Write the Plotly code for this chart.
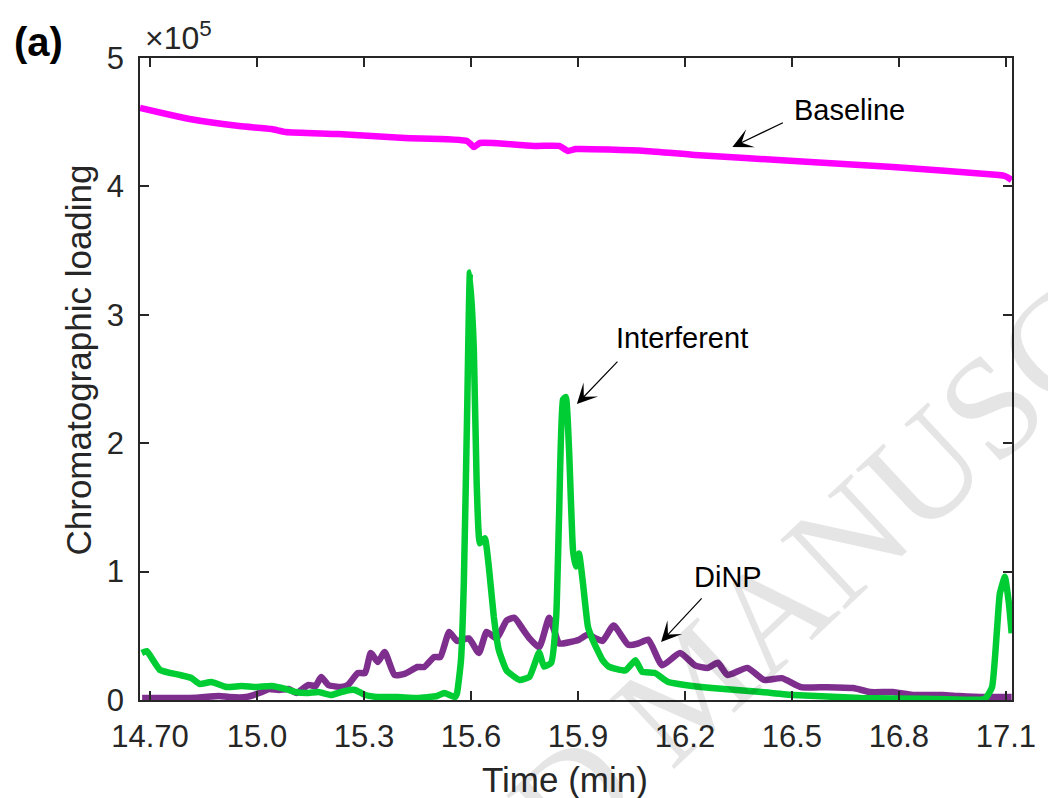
import numpy as np
import plotly.graph_objects as go

SCALE = 1e5

# Baseline (magenta)
t_base = [14.672, 14.811, 14.950, 15.041, 15.080, 15.228, 15.414, 15.589, 15.608, 15.625,
          15.783, 15.847, 15.872, 15.894, 16.089, 16.228, 16.506, 16.783, 17.080, 17.097, 17.116]
y_base = [4.611, 4.525, 4.470, 4.447, 4.424, 4.408, 4.377, 4.354, 4.307, 4.338,
          4.315, 4.315, 4.276, 4.291, 4.276, 4.245, 4.198, 4.151, 4.089, 4.081, 4.050]

# Interferent (green)
t_int = [14.677, 14.691, 14.728, 14.783, 14.816, 14.839, 14.872, 14.914, 14.958, 14.997,
         15.041, 15.080, 15.108, 15.144, 15.172, 15.208, 15.236, 15.261, 15.275, 15.303,
         15.339, 15.394, 15.450, 15.505, 15.525, 15.555, 15.561, 15.572, 15.580, 15.589,
         15.597, 15.608, 15.616, 15.625, 15.639, 15.650, 15.664, 15.678, 15.700, 15.736,
         15.764, 15.791, 15.805, 15.825, 15.839, 15.847, 15.858, 15.866, 15.875, 15.886,
         15.894, 15.903, 15.914, 15.928, 15.941, 15.969, 15.986, 16.033, 16.061, 16.080,
         16.116, 16.153, 16.200, 16.275, 16.414, 16.505, 16.692, 16.875, 17.041, 17.061,
         17.075, 17.083, 17.097, 17.108, 17.116]
y_int = [0.366, 0.380, 0.234, 0.195, 0.171, 0.125, 0.140, 0.101, 0.109, 0.101,
         0.109, 0.086, 0.062, 0.055, 0.062, 0.039, 0.062, 0.078, 0.078, 0.039,
         0.023, 0.023, 0.016, 0.031, 0.055, 0.023, 0.055, 0.310, 0.910, 2.200,
         3.330, 2.730, 1.690, 1.220, 1.260, 1.040, 0.650, 0.390, 0.230, 0.156,
         0.180, 0.370, 0.260, 0.290, 0.650, 1.430, 2.340, 2.360, 1.950, 1.170,
         1.040, 1.140, 0.910, 0.570, 0.470, 0.310, 0.260, 0.230, 0.310, 0.220,
         0.210, 0.140, 0.117, 0.093, 0.062, 0.039, 0.016, 0.010, 0.010, 0.100,
         0.550, 0.830, 0.960, 0.760, 0.520]

# DiNP (purple)
t_dinp = [14.678, 14.783, 14.830, 14.894, 14.922, 14.969, 15.014, 15.033, 15.061, 15.089,
          15.111, 15.144, 15.164, 15.180, 15.200, 15.236, 15.255, 15.283, 15.303, 15.319,
          15.339, 15.358, 15.386, 15.414, 15.450, 15.469, 15.497, 15.514, 15.539, 15.561,
          15.594, 15.622, 15.644, 15.672, 15.700, 15.722, 15.747, 15.764, 15.791, 15.819,
          15.833, 15.847, 15.875, 15.903, 15.928, 15.950, 15.969, 16.000, 16.041, 16.069,
          16.097, 16.136, 16.186, 16.228, 16.264, 16.292, 16.319, 16.375, 16.422, 16.472,
          16.525, 16.597, 16.672, 16.719, 16.783, 16.839, 16.922, 16.969, 17.041, 17.116]
y_dinp = [0.015, 0.015, 0.018, 0.031, 0.023, 0.023, 0.062, 0.086, 0.078, 0.086,
          0.055, 0.117, 0.109, 0.180, 0.117, 0.101, 0.117, 0.210, 0.210, 0.366,
          0.296, 0.374, 0.195, 0.203, 0.257, 0.257, 0.335, 0.335, 0.530, 0.460,
          0.480, 0.366, 0.530, 0.480, 0.620, 0.640, 0.545, 0.480, 0.410, 0.640,
          0.545, 0.440, 0.450, 0.470, 0.510, 0.480, 0.460, 0.580, 0.430, 0.440,
          0.470, 0.270, 0.366, 0.270, 0.250, 0.290, 0.195, 0.250, 0.156, 0.170,
          0.100, 0.100, 0.093, 0.062, 0.062, 0.039, 0.039, 0.031, 0.023, 0.023]

x_tickvals = [14.7, 15.0, 15.3, 15.6, 15.9, 16.2, 16.5, 16.8, 17.1]
x_ticktext = ["14.70", "15.0", "15.3", "15.6", "15.9", "16.2", "16.5", "16.8", "17.1"]
y_tickvals = [0, 1, 2, 3, 4, 5]
y_ticktext = ["0", "1", "2", "3", "4", "5"]

FONT = "Liberation Sans, Arial, sans-serif"
AXC = "#262626"

fig = go.Figure()
fig.add_trace(go.Scatter(x=t_base, y=np.array(y_base) * SCALE, mode="lines",
                         line=dict(color="#FF00FF", width=6.5, shape="spline", smoothing=0.5),
                         name="Baseline"))
fig.add_trace(go.Scatter(x=t_dinp, y=np.array(y_dinp) * SCALE, mode="lines",
                         line=dict(color="#7E2F8E", width=6.5, shape="spline", smoothing=0.5),
                         name="DiNP"))
fig.add_trace(go.Scatter(x=t_int, y=np.array(y_int) * SCALE, mode="lines",
                         line=dict(color="#00CC33", width=6.5, shape="spline", smoothing=0.4),
                         name="Interferent"))

axis_common = dict(showgrid=False, zeroline=False, showline=True, linecolor=AXC, linewidth=1.5,
                   mirror="ticks", ticks="inside", ticklen=9, tickwidth=1.5, tickcolor=AXC,
                   tickfont=dict(family=FONT, size=31, color=AXC))

fig.update_layout(
    width=1048, height=798,
    margin=dict(l=140, r=28, t=58, b=98),
    paper_bgcolor="white", plot_bgcolor="white",
    showlegend=False,
    xaxis=dict(range=[14.672, 17.117], tickvals=x_tickvals, ticktext=x_ticktext,
               ticklabelstandoff=8, **axis_common),
    yaxis=dict(range=[0, 5 * SCALE], tickvals=[v * SCALE for v in y_tickvals],
               ticktext=y_ticktext, ticklabelstandoff=8, **axis_common),
)

ann = []
# Watermark
ann.append(dict(text="ACCEPTED MANUSCRIPT", xref="paper", yref="paper", x=0.633, y=0.0234,
                xanchor="center", yanchor="middle", textangle=-43, showarrow=False,
                font=dict(family="Liberation Serif, Times New Roman, serif", size=145,
                          color="rgba(0,0,0,0.10)")))
# Axis titles
ann.append(dict(text="Time (min)", xref="paper", yref="paper", x=0.4875, y=-0.1246,
                xanchor="center", yanchor="middle", showarrow=False,
                font=dict(family=FONT, size=35, color=AXC)))
ann.append(dict(text="Chromatographic loading", xref="paper", yref="paper", x=-0.0705, y=0.5296,
                xanchor="center", yanchor="middle", textangle=-90, showarrow=False,
                font=dict(family=FONT, size=35, color=AXC)))
# Panel label & exponent
ann.append(dict(text="<b>(a)</b>", xref="paper", yref="paper", x=-0.116, y=1.025,
                xanchor="center", yanchor="middle", showarrow=False,
                font=dict(family=FONT, size=40, color="black")))
ann.append(dict(text="×10<sup>5</sup>", xref="paper", yref="paper", x=0.0035, y=1.035,
                xanchor="left", yanchor="middle", showarrow=False,
                font=dict(family=FONT, size=32, color=AXC)))
# Label texts
for txt, xp, yp in [("Baseline", 856, 110), ("Interferent", 687, 338), ("DiNP", 733, 577)]:
    ann.append(dict(text=txt, xref="paper", yref="paper", x=(xp - 140) / 880, y=(700 - yp) / 642,
                    xanchor="center", yanchor="middle", showarrow=False,
                    font=dict(family=FONT, size=29, color="black")))
# Arrows
for tx, ty, ax, ay in [(16.333, 4.307, 52, -25), (15.897, 2.305, 42, -44), (16.133, 0.452, 42, -45)]:
    ann.append(dict(text="", x=tx, y=ty * SCALE, xref="x", yref="y", ax=ax, ay=ay,
                    showarrow=True, arrowhead=3, arrowsize=2.8, arrowwidth=1.2,
                    arrowcolor="black", standoff=0))
fig.update_layout(annotations=ann)

fig.write_html("out.html")
